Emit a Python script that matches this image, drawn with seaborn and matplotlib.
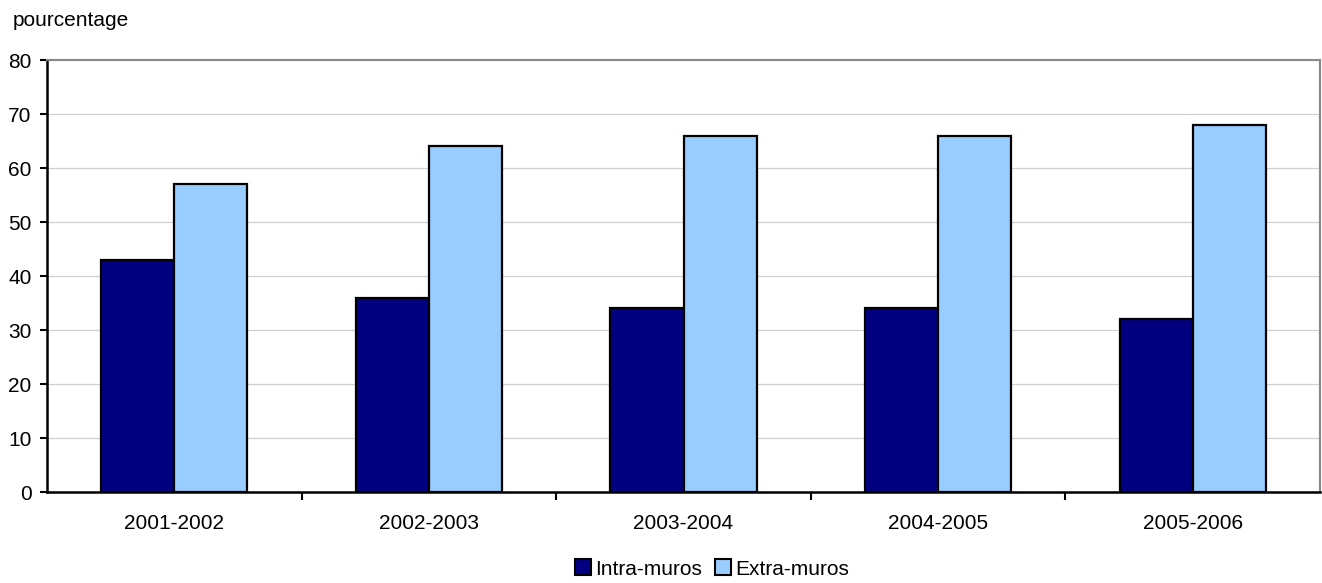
import matplotlib
matplotlib.use("Agg")
import matplotlib.pyplot as plt
import seaborn as sns
import pandas as pd
from matplotlib.patches import Patch

# Share of activity by location, per academic year
years = ["2001-2002", "2002-2003", "2003-2004", "2004-2005", "2005-2006"]
intra = [43, 36, 34, 34, 32]
extra = [57, 64, 66, 66, 68]
series_names = ["Intra-muros", "Extra-muros"]
colors = ["#000080", "#99CCFF"]

df = pd.DataFrame({
    "year": years * 2,
    "value": intra + extra,
    "series": [series_names[0]] * len(years) + [series_names[1]] * len(years),
})

sns.set_style("white")
plt.rcParams["font.family"] = ["Liberation Sans", "DejaVu Sans"]
plt.rcParams["text.color"] = "black"
plt.rcParams["xtick.labelcolor"] = "black"
plt.rcParams["ytick.labelcolor"] = "black"
FS = 15

fig = plt.figure(figsize=(13.22, 5.83), dpi=100)
ax = fig.add_axes([47 / 1322, 1 - 492 / 583, (1320 - 47) / 1322, (492 - 60) / 583])

sns.barplot(data=df, x="year", y="value", hue="series", palette=colors,
            width=0.575, edgecolor="black", linewidth=1.6, ax=ax,
            legend=False, saturation=1)

ax.set_ylim(0, 80)
ax.set_xlim(-0.5, len(years) - 0.5)
ax.set_yticks(range(0, 81, 10))
ax.yaxis.grid(True, color="#d0d0d0", linewidth=0.9)
ax.set_axisbelow(True)
ax.set_xlabel("")
ax.set_ylabel("")

# category labels, with ticks marking the boundaries between categories
ax.set_xticks(range(len(years)))
ax.set_xticklabels(years, fontsize=FS)
ax.tick_params(axis="x", which="major", bottom=True, length=0, pad=16)
ax.set_xticks([i + 0.5 for i in range(len(years) - 1)], minor=True)
ax.tick_params(axis="x", which="minor", bottom=True, length=6, width=1.5,
               color="black", direction="out")
ax.tick_params(axis="y", left=True, length=5, width=1.5, color="black",
               direction="out", labelsize=FS, pad=6)

for side in ["top", "right"]:
    ax.spines[side].set_color("#888888")
    ax.spines[side].set_linewidth(1.5)
for side in ["left", "bottom"]:
    ax.spines[side].set_color("black")
    ax.spines[side].set_linewidth(1.8)

fig.text(13 / 1322, 1 - 20 / 583, "pourcentage", fontsize=FS, va="center", ha="left")

handles = [Patch(facecolor=c, edgecolor="black", linewidth=1.5, label=n)
           for c, n in zip(colors, series_names)]
fig.legend(handles=handles, loc="center", bbox_to_anchor=(712 / 1322, 1 - 569 / 583),
           ncol=2, frameon=False, fontsize=FS, handlelength=0.8, handleheight=0.8,
           handletextpad=0.2, columnspacing=0.6, borderaxespad=0)

fig.savefig("out.png", dpi=100)
